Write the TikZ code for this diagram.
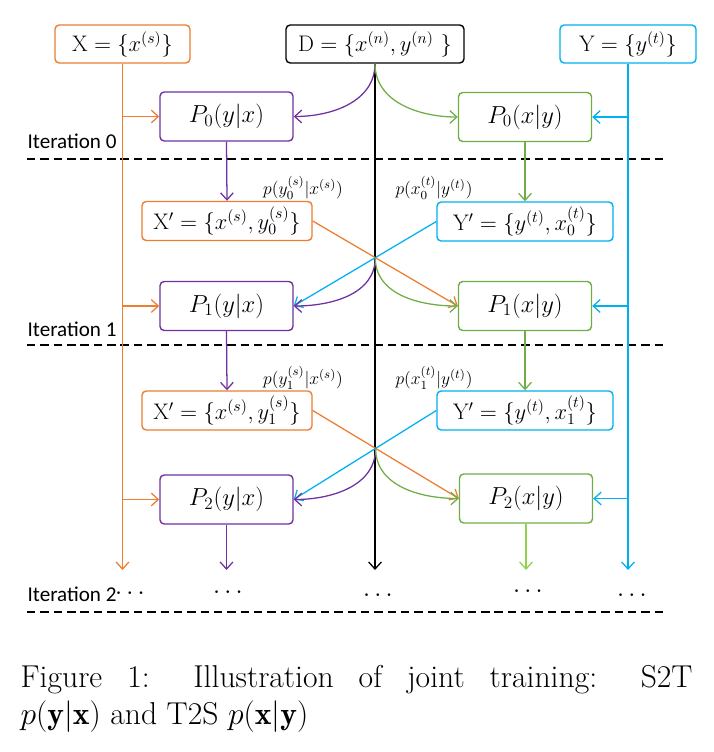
\RequirePackage{fix-cm}
\documentclass[tikz,border=0pt]{standalone}
\usepackage{fontspec}
\usetikzlibrary{arrows.meta}
\newfontfamily\calibri{Carlito}
\definecolor{srcorange}{HTML}{ED7D31}
\definecolor{tgtblue}{HTML}{00B0F0}
\definecolor{stpurple}{HTML}{7030A0}
\definecolor{tsgreen}{HTML}{70AD47}
\definecolor{tslight}{HTML}{92D050}
\begin{document}
\begin{tikzpicture}[x=0.25mm, y=-0.25mm, line width=0.9pt,
    >={Straight Barb[length=5pt,width=9pt]},
    box/.style = {draw=#1, text=black, line width=1pt,
                  rounded corners=3pt, inner sep=0pt,
                  minimum height=9.5mm,
                  font=\fontsize{16}{19}\selectfont},
    model/.style = {box=#1, minimum width=33.25mm, minimum height=12.25mm,
                    font=\fontsize{17.5}{20}\selectfont},
    sample/.style = {box=#1, minimum height=9.75mm},
    iter/.style = {anchor=west, inner sep=0pt,
                   font=\calibri\fontsize{15}{18}\selectfont},
    dots/.style = {inner sep=0pt, font=\fontsize{18}{20}\selectfont},
    prob/.style = {inner sep=0pt, font=\fontsize{12.5}{15}\selectfont},
    sep/.style = {black, dash pattern=on 6pt off 3.5pt}]

    \useasboundingbox (0,0) rectangle (714,752);

    % Data sets
    \node[box=srcorange, minimum width=33.75mm] (X) at (122.5,44) {$\mathrm{X}=\big\{x^{(s)}\big\}$};
    \node[box=black, minimum width=44.5mm] (D) at (375,44) {$\mathrm{D}=\big\{x^{(n)},y^{(n)}\ \big\}$};
    \node[box=tgtblue, minimum width=34mm] (Y) at (628,44) {$\mathrm{Y}=\big\{y^{(t)}\big\}$};

    % Iteration 0
    \node[model=stpurple] (P0y) at (226.5,116.5) {$P_0(y|x)$};
    \node[model=tsgreen] (P0x) at (525,117) {$P_0(x|y)$};
    \node[iter] (it0) at (27,141) {Iteration 0};
    \draw[sep] (27,159) -- (666,159);

    \node[prob] (q0) at (303,188) {$p(y_0^{(s)}|x^{(s)})$};
    \node[prob] (r0) at (434,188) {$p(x_0^{(t)}|y^{(t)})$};
    \node[sample=srcorange, minimum width=42.5mm] (Xp0) at (227,221) {$\mathrm{X}'=\Big\{x^{(s)},y_0^{(s)}\Big\}$};
    \node[sample=tgtblue, minimum width=44mm] (Yp0) at (525,221.5) {$\mathrm{Y}'=\Big\{y^{(t)},x_0^{(t)}\Big\}$};

    % Iteration 1
    \node[model=stpurple] (P1y) at (226.5,306) {$P_1(y|x)$};
    \node[model=tsgreen] (P1x) at (525,306) {$P_1(x|y)$};
    \node[iter] (it1) at (27,329) {Iteration 1};
    \draw[sep] (27,345) -- (666,345);

    \node[prob] (q1) at (303,378) {$p(y_1^{(s)}|x^{(s)})$};
    \node[prob] (r1) at (434,378) {$p(x_1^{(t)}|y^{(t)})$};
    \node[sample=srcorange, minimum width=42.5mm] (Xp1) at (227,410.5) {$\mathrm{X}'=\Big\{x^{(s)},y_1^{(s)}\Big\}$};
    \node[sample=tgtblue, minimum width=44mm] (Yp1) at (525,410.5) {$\mathrm{Y}'=\Big\{y^{(t)},x_1^{(t)}\Big\}$};

    % Iteration 2
    \node[model=stpurple] (P2y) at (226.5,499.5) {$P_2(y|x)$};
    \node[model=tsgreen] (P2x) at (526,498.5) {$P_2(x|y)$};
    \node[iter] (it2) at (27,594) {Iteration 2};
    \draw[sep] (27,612) -- (666,612);

    % Line ends
    \coordinate (endX) at (122.5,570);
    \coordinate (endD) at (375,570);
    \coordinate (endY) at (628,570);
    \coordinate (endP) at (226.5,570);
    \coordinate (endQ) at (526,570);

    % Crossings
    \coordinate (c0) at (intersection of Xp0.east--P1x.west and Yp0.west--P1y.east);
    \coordinate (c1) at (intersection of Xp1.east--P2x.west and Yp1.west--P2y.east);

    % Main lines
    \draw[srcorange, ->] (X.south) -- (endX);
    \draw[black, ->] (D.south) -- (endD);
    \draw[tgtblue, ->] (Y.south) -- (endY);

    % Inputs from X and Y
    \foreach \i in {0,1,2} {
        \draw[srcorange, ->] (X.south |- P\i y.west) -- (P\i y.west);
        \draw[tgtblue, ->] (Y.south |- P\i x.east) -- (P\i x.east);
    }

    % Inputs from D
    \draw[stpurple, ->] (D.south) to[out=-90, in=0] (P0y.east);
    \draw[tsgreen, ->] (D.south) to[out=-90, in=180] (P0x.west);

    % Sampling
    \draw[stpurple, ->] (P0y.south) -- (Xp0.north);
    \draw[tsgreen, ->] (P0x.south) -- (Yp0.north);
    \draw[stpurple, ->] (P1y.south) -- (Xp1.north);
    \draw[tsgreen, ->] (P1x.south) -- (Yp1.north);

    % Crossed updates
    \draw[srcorange, ->] (Xp0.east) -- (P1x.west);
    \draw[tgtblue, ->] (Yp0.west) -- (P1y.east);
    \draw[stpurple, ->] (c0) to[out=-90, in=0] (P1y.east);
    \draw[tsgreen, ->] (c0) to[out=-90, in=180] (P1x.west);

    \draw[srcorange, ->] (Xp1.east) -- (P2x.west);
    \draw[tgtblue, ->] (Yp1.west) -- (P2y.east);
    \draw[stpurple, ->] (c1) to[out=-90, in=0] (P2y.east);
    \draw[tsgreen, ->] (c1) to[out=-90, in=180] (P2x.west);

    % Next iteration
    \draw[stpurple, ->] (P2y.south) -- (endP);
    \draw[tslight, ->] (P2x.south) -- (endQ);

    \node[dots] (dX) at (130,594) {$\cdots$};
    \node[dots] (dP) at (228,593) {$\cdots$};
    \node[dots] (dD) at (378,596) {$\cdots$};
    \node[dots] (dQ) at (528,592) {$\cdots$};
    \node[dots] (dY) at (632,596) {$\cdots$};

    % Caption
    \node[anchor=north west, inner sep=0pt, text width=168mm, align=justify,
          font=\fontsize{22.5}{26.3}\selectfont] (cap) at (20,665)
        {Figure 1: Illustration of joint training: S2T\linebreak
         $p(\mathbf{y}|\mathbf{x})$ and T2S $p(\mathbf{x}|\mathbf{y})$};

\end{tikzpicture}
\end{document}
